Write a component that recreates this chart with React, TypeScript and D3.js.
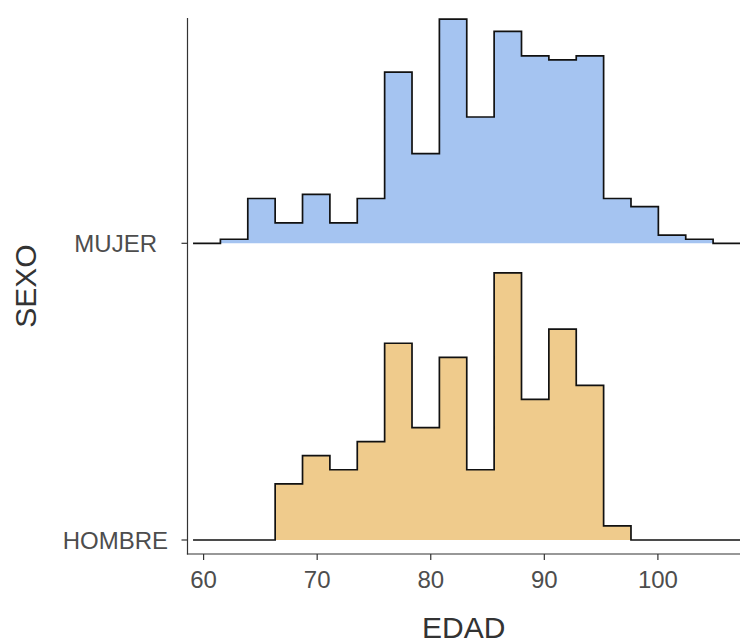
import React, { useEffect, useRef } from "react";
import * as d3 from "d3";

// Ridge categories (bottom to top) and their fills
const categories = ["HOMBRE", "MUJER"];
const fills = ["#EFCB8C", "#A5C4F1"];

// Shared histogram bin grid (EDAD), 20 bins
const binStart = 59.07;
const binWidth = 2.41;

// Counts per bin
const mujerCounts = [0, 1, 11, 5, 12, 5, 11, 42, 22, 55, 31, 52, 46, 45, 46, 11, 9, 2, 1, 0];
const hombreCounts = [0, 0, 0, 4, 6, 5, 7, 14, 8, 13, 5, 19, 10, 15, 11, 1, 0, 0, 0, 0];

const xTicks = [60, 70, 80, 90, 100];

const App = () => {
  const svgRef = useRef<SVGSVGElement | null>(null);

  useEffect(() => {
    if (!svgRef.current) return;
    const svg = d3.select(svgRef.current);
    svg.selectAll("*").remove();

    const width = 740;
    const height = 643;
    const font = "'Liberation Sans', Arial, sans-serif";
    const panel = { left: 187.5, right: 740, top: 18, bottom: 554 };

    svg.attr("width", width).attr("height", height);

    // x scale from tick positions
    const x = d3.scaleLinear().domain([60, 100]).range([203.6, 657.9]);

    // categorical baselines
    const y = d3.scalePoint<string>().domain(categories).range([540, 243.3]);
    const step = 540 - 243.3;

    // densities per group
    const groups = [hombreCounts, mujerCounts].map((counts, i) => {
      const total = d3.sum(counts);
      return { name: categories[i], fill: fills[i], dens: counts.map((c) => c / total) };
    });
    const maxDens = d3.max(groups, (g) => d3.max(g.dens)) as number;
    const h = d3.scaleLinear().domain([0, maxDens]).range([0, step * 0.9]);

    // draw top ridge first
    [...groups].reverse().forEach((g) => {
      const base = y(g.name) as number;
      const pts: [number, number][] = g.dens.map((d, i) => [binStart + i * binWidth, d]);
      pts.push([binStart + g.dens.length * binWidth, g.dens[g.dens.length - 1]]);

      const area = d3.area<[number, number]>()
        .x((d) => x(d[0]))
        .y0(base)
        .y1((d) => base - h(d[1]))
        .curve(d3.curveStepAfter);
      const line = d3.line<[number, number]>()
        .x((d) => x(d[0]))
        .y((d) => base - h(d[1]))
        .curve(d3.curveStepAfter);

      svg.append("path").attr("d", area(pts)).attr("fill", g.fill);
      svg.append("path")
        .attr("d", line(pts))
        .attr("fill", "none")
        .attr("stroke", "#111")
        .attr("stroke-width", 1.7);
    });

    // axes lines
    svg.append("line")
      .attr("x1", panel.left).attr("x2", panel.left)
      .attr("y1", panel.top).attr("y2", panel.bottom + 0.6)
      .attr("stroke", "#333").attr("stroke-width", 1.2);
    svg.append("line")
      .attr("x1", panel.left - 0.6).attr("x2", panel.right)
      .attr("y1", panel.bottom).attr("y2", panel.bottom)
      .attr("stroke", "#333").attr("stroke-width", 1.2);

    // x ticks + labels
    xTicks.forEach((t) => {
      svg.append("line")
        .attr("x1", x(t)).attr("x2", x(t))
        .attr("y1", panel.bottom).attr("y2", panel.bottom + 6)
        .attr("stroke", "#333").attr("stroke-width", 1.2);
      svg.append("text")
        .attr("x", x(t)).attr("y", 588)
        .attr("text-anchor", "middle")
        .attr("font-family", font).attr("font-size", 24)
        .attr("fill", "#4D4D4D")
        .text(t);
    });

    // y ticks + labels
    categories.forEach((c) => {
      const yy = y(c) as number;
      svg.append("line")
        .attr("x1", panel.left - 6).attr("x2", panel.left)
        .attr("y1", yy).attr("y2", yy)
        .attr("stroke", "#333").attr("stroke-width", 1.2);
      svg.append("text")
        .attr("x", c === "MUJER" ? 157 : 168).attr("y", yy + 8.6)
        .attr("text-anchor", "end")
        .attr("font-family", font).attr("font-size", 24)
        .attr("fill", "#4D4D4D")
        .text(c);
    });

    // axis titles
    svg.append("text")
      .attr("x", (panel.left + panel.right) / 2).attr("y", 638)
      .attr("text-anchor", "middle")
      .attr("font-family", font).attr("font-size", 30)
      .attr("fill", "#333")
      .text("EDAD");
    svg.append("text")
      .attr("transform", `translate(36, ${(panel.top + panel.bottom) / 2}) rotate(-90)`)
      .attr("text-anchor", "middle")
      .attr("font-family", font).attr("font-size", 30)
      .attr("fill", "#333")
      .text("SEXO");
  }, []);

  return (
    <div style={{ position: "absolute", left: 0, top: 0 }}>
      <svg ref={svgRef}></svg>
    </div>
  );
};

export default App;
